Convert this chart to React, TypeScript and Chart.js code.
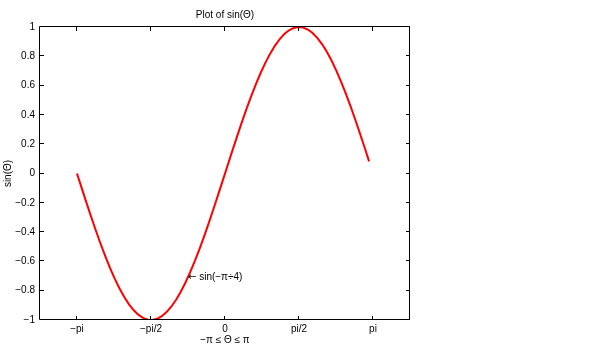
import React, { useEffect, useRef } from "react";
import { Chart, registerables } from "chart.js";

Chart.register(...registerables);

// theta = -pi : 0.1 : pi
const thetaValues: number[] = [
  -3.1416, -3.0416, -2.9416, -2.8416, -2.7416, -2.6416, -2.5416, -2.4416, -2.3416, -2.2416,
  -2.1416, -2.0416, -1.9416, -1.8416, -1.7416, -1.6416, -1.5416, -1.4416, -1.3416, -1.2416,
  -1.1416, -1.0416, -0.9416, -0.8416, -0.7416, -0.6416, -0.5416, -0.4416, -0.3416, -0.2416,
  -0.1416, -0.0416, 0.0584, 0.1584, 0.2584, 0.3584, 0.4584, 0.5584, 0.6584, 0.7584,
  0.8584, 0.9584, 1.0584, 1.1584, 1.2584, 1.3584, 1.4584, 1.5584, 1.6584, 1.7584,
  1.8584, 1.9584, 2.0584, 2.1584, 2.2584, 2.3584, 2.4584, 2.5584, 2.6584, 2.7584,
  2.8584, 2.9584, 3.0584,
];
const sinValues: number[] = [
  0, -0.0998, -0.1987, -0.2955, -0.3894, -0.4794, -0.5646, -0.6442, -0.7174, -0.7833,
  -0.8415, -0.8912, -0.932, -0.9636, -0.9854, -0.9975, -0.9996, -0.9917, -0.9738, -0.9463,
  -0.9093, -0.8632, -0.8085, -0.7457, -0.6755, -0.5985, -0.5155, -0.4274, -0.335, -0.2392,
  -0.1411, -0.0416, 0.0584, 0.1577, 0.2555, 0.3508, 0.4425, 0.5298, 0.6119, 0.6878,
  0.7568, 0.8183, 0.8716, 0.9162, 0.9516, 0.9775, 0.9937, 0.9999, 0.9962, 0.9825,
  0.9589, 0.9258, 0.8835, 0.8323, 0.7728, 0.7055, 0.6313, 0.5507, 0.4646, 0.3739,
  0.2794, 0.1822, 0.0831,
];

const xTickValues: number[] = [-Math.PI, -Math.PI / 2, 0, Math.PI / 2, Math.PI];
const xTickLabels: string[] = ["\u2212pi", "\u2212pi/2", "0", "pi/2", "pi"];
const xRange: number[] = [-1.25 * Math.PI, 1.25 * Math.PI];
const yRange: number[] = [-1, 1];

const annotationX: number[] = [-Math.PI / 4];
const annotationY: number[] = [-0.7071];
const annotationArrow: string[] = ["\u2190"];
const annotationText: string[] = [" sin(\u2212\u03c0\u00f74)"];

const FONT = "'Liberation Sans', Arial, Helvetica, sans-serif";

const boxPlugin = {
  id: "matlabBox",
  afterDraw(chart: any) {
    const { ctx, chartArea, scales } = chart;
    const { left, right, top, bottom } = chartArea;
    ctx.save();
    ctx.strokeStyle = "#000";
    ctx.lineWidth = 1;
    ctx.beginPath();
    ctx.rect(Math.round(left) - 0.5, Math.round(top) - 0.5, Math.round(right - left), Math.round(bottom - top));
    ctx.stroke();
    const tl = 4;
    ctx.beginPath();
    for (const v of xTickValues) {
      const px = Math.round(scales.x.getPixelForValue(v)) - 0.5;
      ctx.moveTo(px, bottom);
      ctx.lineTo(px, bottom - tl);
      ctx.moveTo(px, top);
      ctx.lineTo(px, top + tl);
    }
    for (const t of scales.y.ticks) {
      const py = Math.round(scales.y.getPixelForValue(t.value)) - 0.5;
      ctx.moveTo(left, py);
      ctx.lineTo(left + tl, py);
      ctx.moveTo(right, py);
      ctx.lineTo(right - tl, py);
    }
    ctx.stroke();

    ctx.fillStyle = "#000";
    ctx.textAlign = "left";
    ctx.textBaseline = "middle";
    annotationText.forEach((txt, i) => {
      const px = scales.x.getPixelForValue(annotationX[i]);
      const py = scales.y.getPixelForValue(annotationY[i]);
      ctx.font = "10px 'DejaVu Sans', sans-serif";
      ctx.fillText(annotationArrow[i], px, py);
      const w = ctx.measureText(annotationArrow[i]).width;
      ctx.font = `10px ${FONT}`;
      ctx.fillText(txt, px + w, py);
    });
    ctx.restore();
  },
};

export default function App() {
  const canvasRef = useRef<HTMLCanvasElement | null>(null);

  useEffect(() => {
    document.body.style.margin = "0";
    const canvas = canvasRef.current;
    if (!canvas) return;
    const points = thetaValues.map((x, i) => ({ x, y: sinValues[i] }));
    const chart = new Chart(canvas, {
      type: "line",
      data: {
        datasets: [
          {
            data: points,
            borderColor: "#ff0000",
            borderWidth: 2,
            pointRadius: 0,
            fill: false,
            tension: 0,
          },
        ],
      },
      options: {
        responsive: false,
        animation: false,
        devicePixelRatio: 1,
        layout: { padding: { left: 0, right: 190, top: 0, bottom: 0 } },
        plugins: {
          legend: { display: false },
          tooltip: { enabled: false },
          title: {
            display: true,
            text: "Plot of sin(\u0398)",
            fullSize: false,
            color: "#000",
            font: { family: FONT, size: 10, weight: "normal" },
            padding: { top: 9, bottom: 6 },
          },
        },
        scales: {
          x: {
            type: "linear",
            min: xRange[0],
            max: xRange[1],
            afterBuildTicks: (scale: any) => {
              scale.ticks = xTickValues.map((v) => ({ value: v }));
            },
            afterFit: (scale: any) => {
              scale.height = 31;
            },
            grid: { display: false, drawTicks: false },
            border: { display: false },
            ticks: {
              color: "#000",
              font: { family: FONT, size: 10 },
              padding: 3,
              maxRotation: 0,
              autoSkip: false,
              callback: (v: any) => {
                const idx = xTickValues.findIndex((t) => Math.abs(t - Number(v)) < 1e-6);
                return idx >= 0 ? xTickLabels[idx] : "";
              },
            },
            title: {
              display: true,
              text: "\u2212\u03c0 \u2264 \u0398 \u2264 \u03c0",
              color: "#000",
              font: { family: FONT, size: 10 },
              padding: { top: 0, bottom: 5 },
            },
          },
          y: {
            type: "linear",
            min: yRange[0],
            max: yRange[1],
            afterFit: (scale: any) => {
              scale.width = 40;
            },
            grid: { display: false, drawTicks: false },
            border: { display: false },
            ticks: {
              stepSize: 0.2,
              color: "#000",
              font: { family: FONT, size: 10 },
              padding: 5,
              callback: (v: any) => {
                const r = Math.round(Number(v) * 10) / 10;
                if (r === 0) return "0";
                return String(r).replace("-", "\u2212");
              },
            },
            title: {
              display: true,
              text: "sin(\u0398)",
              color: "#000",
              font: { family: FONT, size: 10 },
              padding: { top: 2, bottom: 0 },
            },
          },
        },
      },
      plugins: [boxPlugin],
    });
    return () => chart.destroy();
  }, []);

  return (
    <div style={{ position: "fixed", left: 0, top: 0, width: 600, height: 351, background: "#fff" }}>
      <canvas ref={canvasRef} width={600} height={351} />
    </div>
  );
}
